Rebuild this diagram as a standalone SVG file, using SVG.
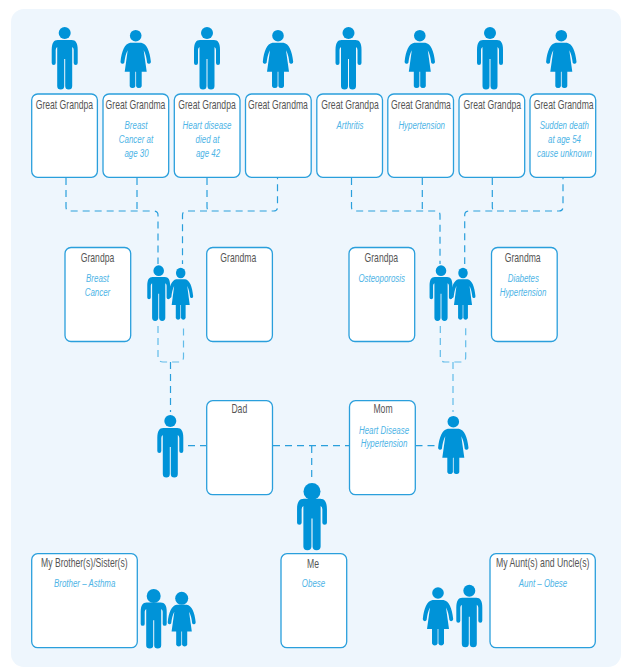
<svg xmlns="http://www.w3.org/2000/svg" width="622" height="667" viewBox="0 0 622 667">
<style>
.box{fill:#fff;stroke:#2a9fdc;stroke-width:1.3}
.t{font-family:"Liberation Sans",Arial,sans-serif;font-size:12.500px;fill:#555;text-anchor:middle}
.i{font-family:"Liberation Sans",Arial,sans-serif;font-size:11px;font-style:italic;fill:#4db4e6;text-anchor:middle}
.c{fill:none;stroke:#2a9fdc;stroke-width:1.2;stroke-dasharray:7 5}
.l{stroke:#62bce9}
.p{fill:#0093d8}
</style>
<defs>
<g id="man" class="p"><circle cx="0" cy="0" r="6"/><path d="M-7,7H7C11,7 13,10 13,17V30a2,2 0 0 1-4,0V17Q9,15 7.500,14V53a3.200,3.200 0 0 1-7,0V26H-0.500V53a3.200,3.200 0 0 1-7,0V14Q-9,15-9,17V30a2,2 0 0 1-4,0V17C-13,10-11,7-7,7Z"/></g>
<g id="woman" class="p"><circle cx="0" cy="0" r="5.800"/><path d="M-5.500,7H5.500C11,8 14,15 15.200,26a2,2 0 0 1-3.800,1Q10.500,19 8,14.500L11,36H6V50.500a3,3 0 0 1-5.600,0V36H-0.400V50.500a3,3 0 0 1-5.600,0V36H-11L-8,14.500Q-10.500,19-11.400,27a2,2 0 0 1-3.800-1C-14,15-11,8-5.500,7Z"/></g>
</defs>
<rect x="11" y="9" width="610" height="658" rx="13" fill="#eef6fd"/>
<g id="connectors">
<path class="c" d="M66,178V207Q66,211 70,211H153.500Q158,211 158,215V264"/>
<path class="c" d="M137,178V211"/>
<path class="c" d="M207,178V207Q207,211 211,211H273.500Q277.500,211 277.500,207V178"/>
<path class="c" d="M207,211H187Q182.500,211 182.500,215V264"/>
<path class="c" d="M351.500,178V207Q351.500,211 355.500,211H436Q440,211 440,215V264"/>
<path class="c" d="M422.300,178V211"/>
<path class="c" d="M492.300,178V207Q492.300,211 496.300,211H559Q563,211 563,207V178"/>
<path class="c" d="M492.300,211H469Q464.700,211 464.700,215V264"/>
<path class="c l" d="M158,326V357Q158,362 163,362H179Q183.500,362 183.500,357V326"/>
<path class="c" d="M170.500,362V412"/>
<path class="c l" d="M440.300,326V357Q440.300,362 445,362H461Q465.700,362 465.700,357V326"/>
<path class="c l" d="M453,362V412"/>
<path class="c" d="M188,445.700H206M273,445.700H349M415.500,445.700H436"/>
<path class="c" d="M311.700,446V478"/>
</g>
<g id="gg1"><use href="#man" x="64.700" y="33"/><rect class="box" x="31.700" y="94" width="65.700" height="83.300" rx="6"/><text class="t" transform="translate(64.400 108.700) scale(.69 1)">Great Grandpa</text></g>
<g id="gg2"><use href="#woman" x="135.700" y="35.700"/><rect class="box" x="103" y="94" width="65.700" height="83.300" rx="6"/><text class="t" transform="translate(135.500 108.700) scale(.69 1)">Great Grandma</text><text class="i" transform="translate(136 129) scale(.72 1)">Breast</text><text class="i" transform="translate(136 143) scale(.72 1)">Cancer at</text><text class="i" transform="translate(136.500 157) scale(.72 1)">age 30</text></g>
<g id="gg3"><use href="#man" x="207" y="33"/><rect class="box" x="174.300" y="94" width="65.700" height="83.300" rx="6"/><text class="t" transform="translate(207 108.700) scale(.69 1)">Great Grandpa</text><text class="i" transform="translate(207 129) scale(.72 1)">Heart disease</text><text class="i" transform="translate(207.500 143) scale(.72 1)">died at</text><text class="i" transform="translate(208 157) scale(.72 1)">age 42</text></g>
<g id="gg4"><use href="#woman" x="278" y="35.700"/><rect class="box" x="245.500" y="94" width="65.700" height="83.300" rx="6"/><text class="t" transform="translate(278 108.700) scale(.69 1)">Great Grandma</text></g>
<g id="gg5"><use href="#man" x="348.500" y="33"/><rect class="box" x="316.800" y="94" width="65.700" height="83.300" rx="6"/><text class="t" transform="translate(350 108.700) scale(.69 1)">Great Grandpa</text><text class="i" transform="translate(350 129) scale(.72 1)">Arthritis</text></g>
<g id="gg6"><use href="#woman" x="419.800" y="35.700"/><rect class="box" x="387.800" y="94" width="65.700" height="83.300" rx="6"/><text class="t" transform="translate(421 108.700) scale(.69 1)">Great Grandma</text><text class="i" transform="translate(421.700 129) scale(.72 1)">Hypertension</text></g>
<g id="gg7"><use href="#man" x="490" y="33"/><rect class="box" x="459" y="94" width="65.700" height="83.300" rx="6"/><text class="t" transform="translate(492.300 108.700) scale(.69 1)">Great Grandpa</text></g>
<g id="gg8"><use href="#woman" x="561.300" y="35.700"/><rect class="box" x="530" y="94" width="65.700" height="83.300" rx="6"/><text class="t" transform="translate(563.700 108.700) scale(.69 1)">Great Grandma</text><text class="i" transform="translate(564.300 129) scale(.72 1)">Sudden death</text><text class="i" transform="translate(564.500 143) scale(.72 1)">at age 54</text><text class="i" transform="translate(564.500 157) scale(.72 1)">cause unknown</text></g>
<g id="gp1"><rect class="box" x="65" y="247.500" width="65.700" height="94" rx="6"/><text class="t" transform="translate(97.500 262) scale(.69 1)">Grandpa</text><text class="i" transform="translate(97.500 282) scale(.72 1)">Breast</text><text class="i" transform="translate(97.500 296) scale(.72 1)">Cancer</text></g>
<g id="gm1"><rect class="box" x="206.700" y="247.500" width="65.700" height="94" rx="6"/><text class="t" transform="translate(238.300 262) scale(.69 1)">Grandma</text></g>
<g id="gp2"><rect class="box" x="349" y="247.500" width="65.700" height="94" rx="6"/><text class="t" transform="translate(381.300 262) scale(.69 1)">Grandpa</text><text class="i" transform="translate(381.700 282) scale(.72 1)">Osteoporosis</text></g>
<g id="gm2"><rect class="box" x="491.500" y="247.500" width="65.700" height="94" rx="6"/><text class="t" transform="translate(522.700 262) scale(.69 1)">Grandma</text><text class="i" transform="translate(523.300 282) scale(.72 1)">Diabetes</text><text class="i" transform="translate(523 296) scale(.72 1)">Hypertension</text></g>
<g id="couple-left"><use href="#man" transform="translate(158.700 270.700) scale(.88 .89)"/><use href="#woman" transform="translate(180.700 273) scale(.82 .89)"/></g>
<g id="couple-right"><use href="#man" transform="translate(441 270.700) scale(.88 .89)"/><use href="#woman" transform="translate(463 273) scale(.82 .89)"/></g>
<g id="dad"><use href="#man" x="170.300" y="421"/><rect class="box" x="206.700" y="400.700" width="65.800" height="94" rx="6"/><text class="t" transform="translate(239.300 412.700) scale(.69 1)">Dad</text></g>
<g id="mom"><use href="#woman" x="453.300" y="421.700"/><rect class="box" x="349.500" y="400.700" width="65.800" height="94" rx="6"/><text class="t" transform="translate(383 412.700) scale(.69 1)">Mom</text><text class="i" transform="translate(384 434) scale(.72 1)">Heart Disease</text><text class="i" transform="translate(384 447) scale(.72 1)">Hypertension</text></g>
<g id="me"><circle class="p" cx="312" cy="491.500" r="8.500"/><use href="#man" transform="translate(312 491.500) scale(1.150 1.040)"/><rect class="box" x="281" y="553.700" width="65.700" height="94" rx="6"/><text class="t" transform="translate(313 568) scale(.69 1)">Me</text><text class="i" transform="translate(313.500 587) scale(.72 1)">Obese</text></g>
<g id="siblings"><rect class="box" x="31.700" y="553.700" width="105.600" height="94" rx="6"/><text class="t" transform="translate(84.300 566.700) scale(.69 1)">My Brother(s)/Sister(s)</text><text class="i" transform="translate(84.700 587) scale(.72 1)">Brother – Asthma</text><circle class="p" cx="153.700" cy="596" r="7"/><use href="#man" transform="translate(153.700 596) scale(1 .93)"/><circle class="p" cx="181.700" cy="598.300" r="6.500"/><use href="#woman" transform="translate(181.700 598.300) scale(.92 .92)"/></g>
<g id="aunts"><rect class="box" x="490" y="553.700" width="105.300" height="94" rx="6"/><text class="t" transform="translate(542.700 566.700) scale(.7 1)">My Aunt(s) and Uncle(s)</text><text class="i" transform="translate(543 587) scale(.72 1)">Aunt – Obese</text><use href="#woman" x="438" y="593"/><use href="#man" x="469.300" y="590.700"/></g>
</svg>
